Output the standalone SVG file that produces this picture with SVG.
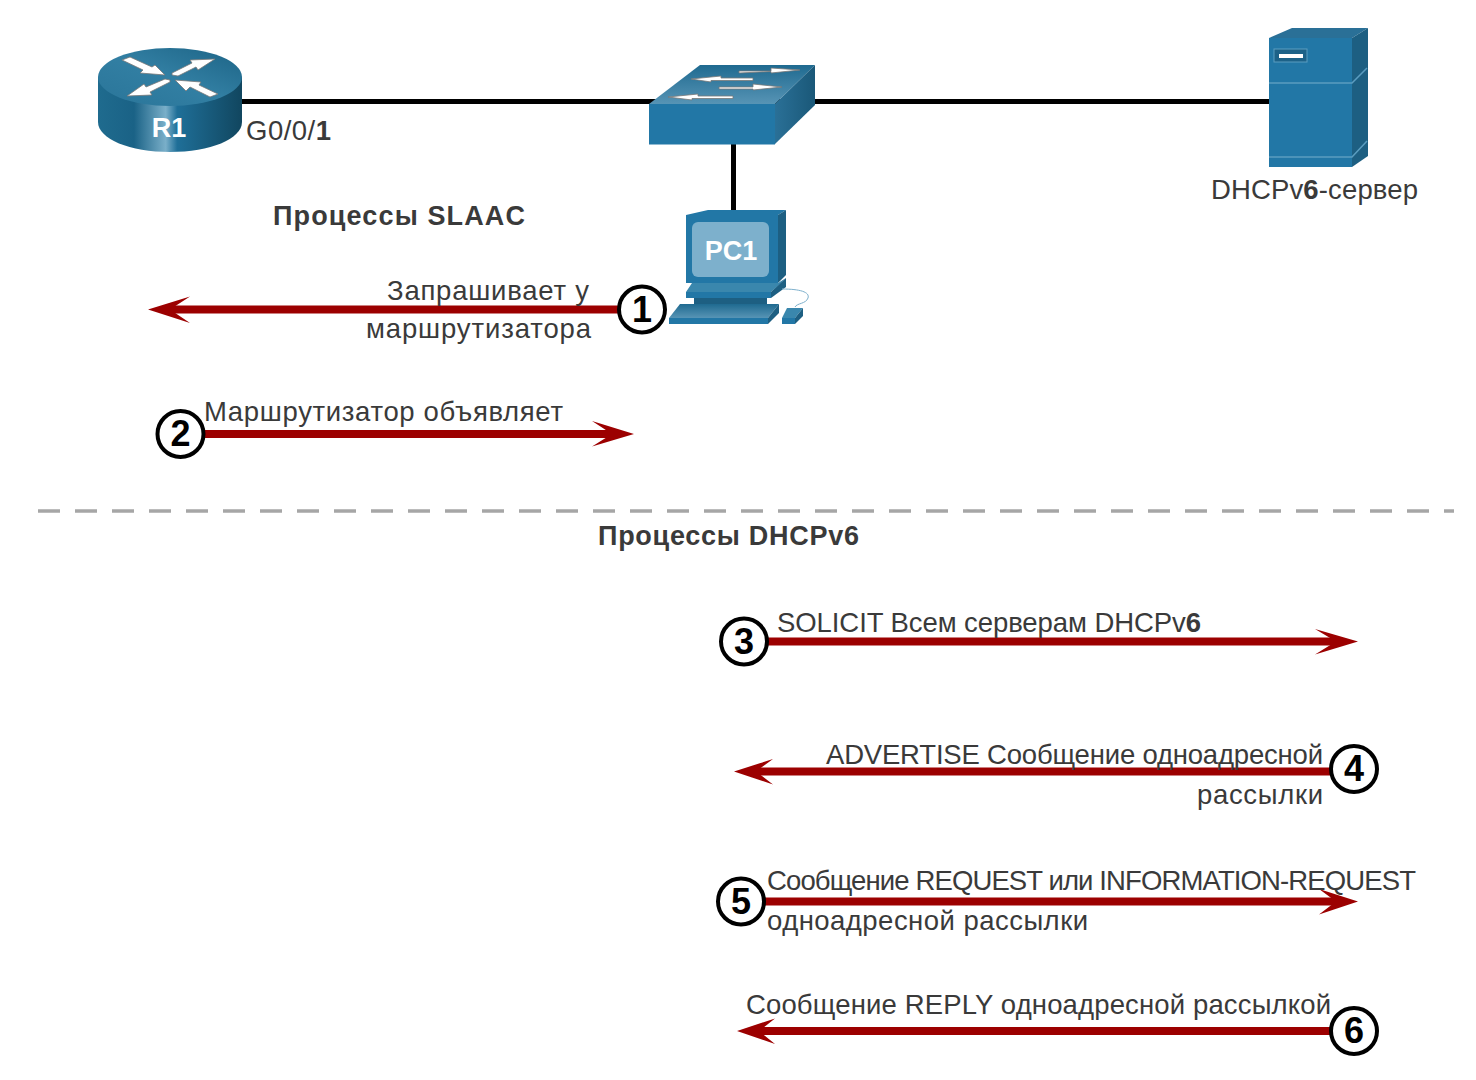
<svg xmlns="http://www.w3.org/2000/svg" width="1476" height="1080" viewBox="0 0 1476 1080">
<style>
text{font-family:"Liberation Sans",Arial,sans-serif;font-size:27.5px;fill:#3a3a3a}
.h{font-weight:700;font-size:27px}
.b{font-weight:700}
.n{font-weight:700;font-size:36px;fill:#000;text-anchor:middle}
.link{stroke:#000;stroke-width:5;fill:none}
.arr{stroke:#9c0000;stroke-width:8;fill:none}
.head{fill:#9c0000}
.c{fill:#fff;stroke:#000;stroke-width:4}
.wa{fill:#fff;stroke:#777;stroke-width:.8}
</style>
<defs>
<linearGradient id="rs" x1="0" x2="1" y1="0" y2="0"><stop offset="0" stop-color="#1f6b8e"/><stop offset=".25" stop-color="#1a6286"/><stop offset=".47" stop-color="#7aafc9"/><stop offset=".55" stop-color="#1f6f98"/><stop offset="1" stop-color="#11465f"/></linearGradient>
<linearGradient id="rt" x1="0" x2="1" y1="1" y2="0"><stop offset="0" stop-color="#2a7599"/><stop offset=".5" stop-color="#327fa3"/><stop offset="1" stop-color="#1c6385"/></linearGradient>
<linearGradient id="st" x1="0" x2="0" y1="0" y2="1"><stop offset="0" stop-color="#1f6a90"/><stop offset="1" stop-color="#5794b5"/></linearGradient>
<linearGradient id="sd" x1="0" x2="1" y1="0" y2="0"><stop offset="0" stop-color="#2a7097"/><stop offset="1" stop-color="#1a5878"/></linearGradient>
<linearGradient id="kb" x1="0" x2="0" y1="0" y2="1"><stop offset="0" stop-color="#1f6a90"/><stop offset="1" stop-color="#5794b5"/></linearGradient>
</defs>

<g id="connectors">
<path class="link" d="M240 101.500H1272"/>
<path class="link" d="M733.500 140V212"/>
<path class="arr" d="M620 309.500H168"/><path class="head" d="M148 309.500L190 296.500L170 309.500L190 323Z"/>
<path class="arr" d="M202 434H614"/><path class="head" d="M634 434L592 421L612 434L592 446.500Z"/>
<path class="arr" d="M766 641.500H1338"/><path class="head" d="M1358 641.500L1315 629L1336 641.500L1315 654.500Z"/>
<path class="arr" d="M1332 771.500H754"/><path class="head" d="M734 771.500L773 759L756 771.500L773 784.500Z"/>
<path class="arr" d="M764 901.500H1338"/><path class="head" d="M1358 901.500L1319 889L1336 901.500L1319 914.500Z"/>
<path class="arr" d="M1332 1031H757"/><path class="head" d="M737 1031L775 1018.500L759 1031L775 1044Z"/>
</g>
<path id="divider" d="M38 511H1454" stroke="#a6a6a6" stroke-width="3.500" stroke-dasharray="22 15" fill="none"/>

<g id="R1">
<path d="M98 77V122C98 139 130 152 170 152C210 152 242 139 242 122V77Z" fill="url(#rs)"/>
<ellipse cx="170" cy="77" rx="72" ry="29" fill="url(#rt)"/>
<path class="wa" d="M122 60L130 57L152 67L155 65L165 75L140 73L143 70Z"/>
<path class="wa" d="M172 75L178 76L196 67L198 70L215 59L190 60L192 63L172 73Z"/>
<path class="wa" d="M170 80L165 79L146 87L144 84L127 96L152 95L150 92L170 82Z"/>
<path class="wa" d="M218 94L210 97L190 87L186 91L175 80L201 82L199 85Z"/>
<text x="169" y="137" text-anchor="middle" style="font-weight:700;font-size:27px;fill:#fff">R1</text>
<text x="246" y="140" textLength="85">G0/0/<tspan class="b">1</tspan></text>
</g>

<g id="switch">
<path d="M649 104L700 65H815L775 104Z" fill="url(#st)"/>
<path d="M775 104L815 65V105L775 144Z" fill="url(#sd)"/>
<rect x="649" y="104" width="126" height="40.500" fill="#2277a6"/>
<path class="wa" d="M739 71H771L771 68L800 70L771 73V71.500L739 73Z"/>
<path class="wa" d="M753 78H721L721 76L691 79L711 82V80.500L753 80.500Z"/>
<path class="wa" d="M719 87H753L753 84L782 87L753 90V89L719 89Z"/>
<path class="wa" d="M733 96H698L698 94L668 97L692 100V98.500L733 98.500Z"/>
</g>

<g id="PC1">
<path d="M686 215L708 210H786L778 215V283H686Z" fill="#2277a6"/>
<path d="M778 215L786 210V275L778 283Z" fill="#1d5f82"/>
<rect x="692" y="222" width="77" height="55" rx="6" fill="#7db0cc"/>
<text x="731" y="260" text-anchor="middle" style="font-weight:700;font-size:27px;fill:#fff">PC1</text>
<path d="M692 283H778L786 278L780 284L771 292H686Z" fill="#3a87ad"/>
<path d="M771 292L786 278V287L771 298Z" fill="#1d5f82"/>
<rect x="686" y="292" width="85" height="6" fill="#2277a6"/>
<rect x="694" y="298" width="73" height="6" fill="#1d5f82"/>
<path d="M680 304H779L768 318H669Z" fill="url(#kb)"/>
<rect x="669" y="318" width="99" height="6" fill="#2277a6"/>
<path d="M779 304V313L768 324V318Z" fill="#1d5f82"/>
<path d="M782 318L787 308H803L795 318Z" fill="#3a87ad"/>
<rect x="782" y="318" width="13" height="6" fill="#2277a6"/>
<path d="M795 318L803 308V316L795 324Z" fill="#1d5f82"/>
<path d="M782 289C800 289 810 292 808 298C806 304 797 303 795 307" fill="none" stroke="#7db0cc" stroke-width="1"/>
</g>

<g id="DHCPv6-server">
<path d="M1269 38L1292 28H1368L1352 38Z" fill="#2a7097"/>
<path d="M1352 38L1368 28V156L1352 167Z" fill="#1d5f82"/>
<rect x="1269" y="38" width="83" height="129" fill="#2277a6"/>
<path d="M1269 83H1352L1367 68" stroke="#5b9dc0" stroke-width="1.500" fill="none"/>
<path d="M1269 157H1352L1367 141" stroke="#5b9dc0" stroke-width="1.500" fill="none"/>
<rect x="1274" y="49" width="33" height="13" fill="#1d6288" stroke="#5b9dc0"/>
<rect x="1279" y="54" width="24" height="4" fill="#fff"/>
<text x="1211" y="199" textLength="207" lengthAdjust="spacing">DHCPv<tspan class="b">6</tspan>-сервер</text>
</g>

<text id="title-slaac" class="h" x="273" y="225" textLength="252">Процессы SLAAC</text>
<text id="title-dhcp" class="h" x="598" y="545" textLength="261">Процессы DHCPv6</text>

<g id="step1"><circle class="c" cx="642" cy="309.500" r="23"/><text class="n" x="642" y="322">1</text>
<text x="589" y="300" text-anchor="end" textLength="202">Запрашивает у</text>
<text x="591" y="338" text-anchor="end" textLength="225">маршрутизатора</text></g>
<g id="step2"><circle class="c" cx="180.500" cy="434" r="23"/><text class="n" x="180.500" y="446">2</text>
<text x="204" y="421" textLength="359">Маршрутизатор объявляет</text></g>
<g id="step3"><circle class="c" cx="744" cy="641.500" r="23"/><text class="n" x="744" y="654">3</text>
<text x="777" y="632" textLength="424">SOLICIT Всем серверам DHCPv<tspan class="b">6</tspan></text></g>
<g id="step4"><circle class="c" cx="1354" cy="769" r="23"/><text class="n" x="1354" y="781">4</text>
<text x="826" y="764" textLength="497">ADVERTISE Сообщение одноадресной</text>
<text x="1323" y="804" text-anchor="end" textLength="126">рассылки</text></g>
<g id="step5"><circle class="c" cx="741" cy="901.500" r="23"/><text class="n" x="741" y="914">5</text>
<text x="767" y="890" textLength="649">Сообщение REQUEST или INFORMATION-REQUEST</text>
<text x="767" y="930" textLength="321">одноадресной рассылки</text></g>
<g id="step6"><circle class="c" cx="1354" cy="1031" r="23"/><text class="n" x="1354" y="1043">6</text>
<text x="746" y="1014" textLength="585">Сообщение REPLY одноадресной рассылкой</text></g>
</svg>
